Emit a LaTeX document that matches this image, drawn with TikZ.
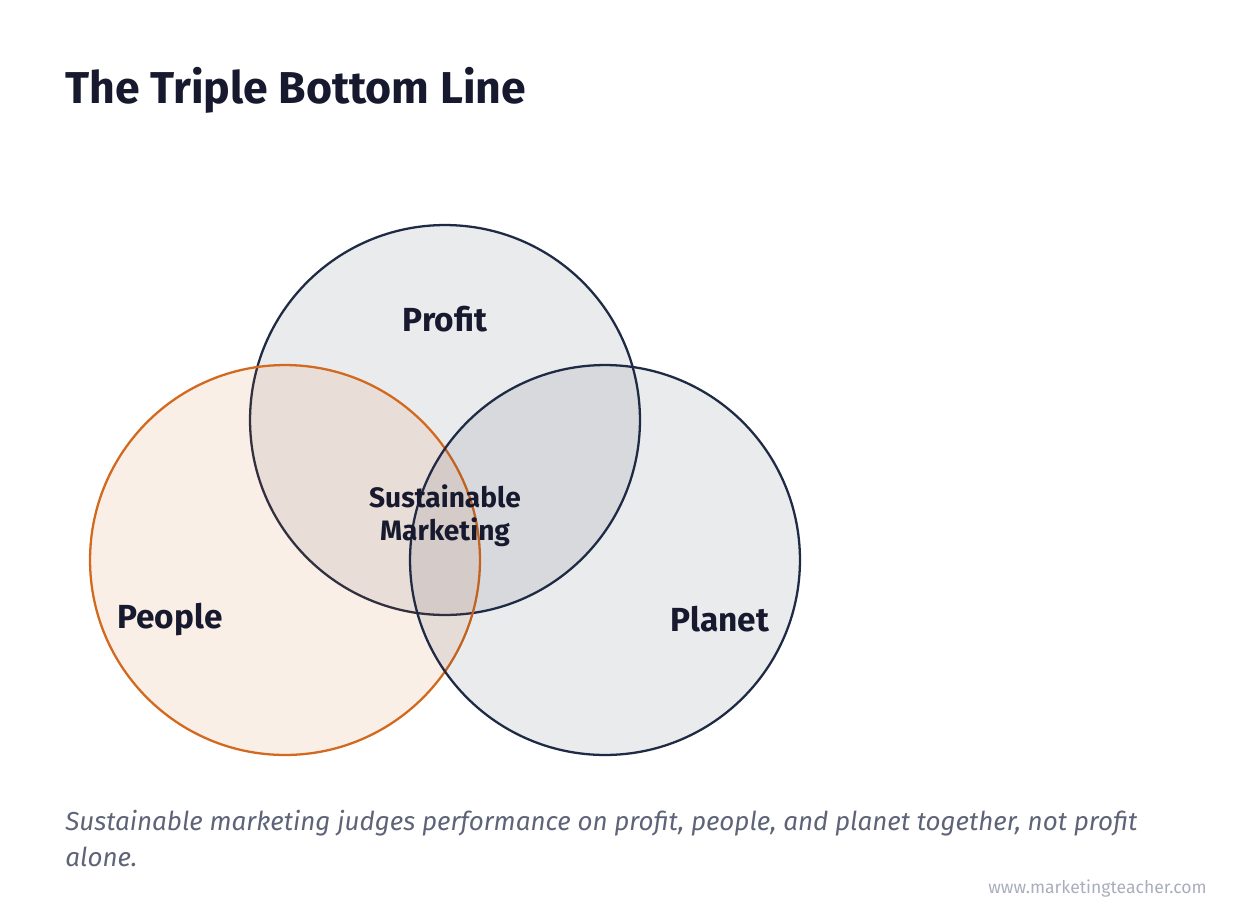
\documentclass[tikz,border=0pt]{standalone}
\usepackage{fontspec}
\setmainfont{Fira Sans}
\usepackage{tikz}
\usetikzlibrary{positioning}
\definecolor{tblink}{HTML}{171A2E}
\definecolor{tblnavy}{HTML}{1F2A44}
\definecolor{tblorange}{HTML}{D2691E}
\definecolor{tblgrey}{HTML}{5E6478}
\definecolor{tblweb}{HTML}{A9AEBD}

\begin{document}
\begin{tikzpicture}[x=0.02cm, y=-0.02cm,
    setcircle/.style={circle, minimum size=7.8cm, inner sep=0pt, line width=1.3pt},
    setlabel/.style={font=\fontsize{19}{22}\selectfont\bfseries, text=tblink}]
    \useasboundingbox (0,0) rectangle (1240,920);

    % Title
    \node[anchor=base west, inner sep=0pt, font=\fontsize{25.4}{30}\selectfont\bfseries, text=tblink] (title) at (65,103) {The Triple Bottom Line};

    % Circles
    \node[setcircle, draw=tblnavy, fill=tblnavy, fill opacity=0.095, draw opacity=1] (profit) at (445,420) {};
    \node[setcircle, draw=tblorange, fill=tblorange, fill opacity=0.11, draw opacity=1] (people) at (285,560) {};
    \node[setcircle, draw=tblnavy, fill=tblnavy, fill opacity=0.095, draw opacity=1] (planet) at (605,560) {};

    % Labels
    \node[setlabel] (profitlbl) at (445,319) {Profit};
    \node[setlabel] (peoplelbl) at (170,620) {People};
    \node[setlabel] (planetlbl) at (720,619) {Planet};
    \node[align=center, font=\fontsize{16}{19}\selectfont\bfseries, text=tblink] (core) at (445,516) {Sustainable\\Marketing};

    % Caption
    \node[anchor=base west, inner sep=0pt, align=left, font=\fontsize{14.8}{20.3}\selectfont\itshape, text=tblgrey] (caption) at (65,866) {Sustainable marketing judges performance on profit, people, and planet together, not profit\\alone.};
    \node[anchor=base east, inner sep=0pt, font=\fontsize{10}{12}\selectfont, text=tblweb] (web) at (1207,893) {www.marketingteacher.com};
\end{tikzpicture}
\end{document}
